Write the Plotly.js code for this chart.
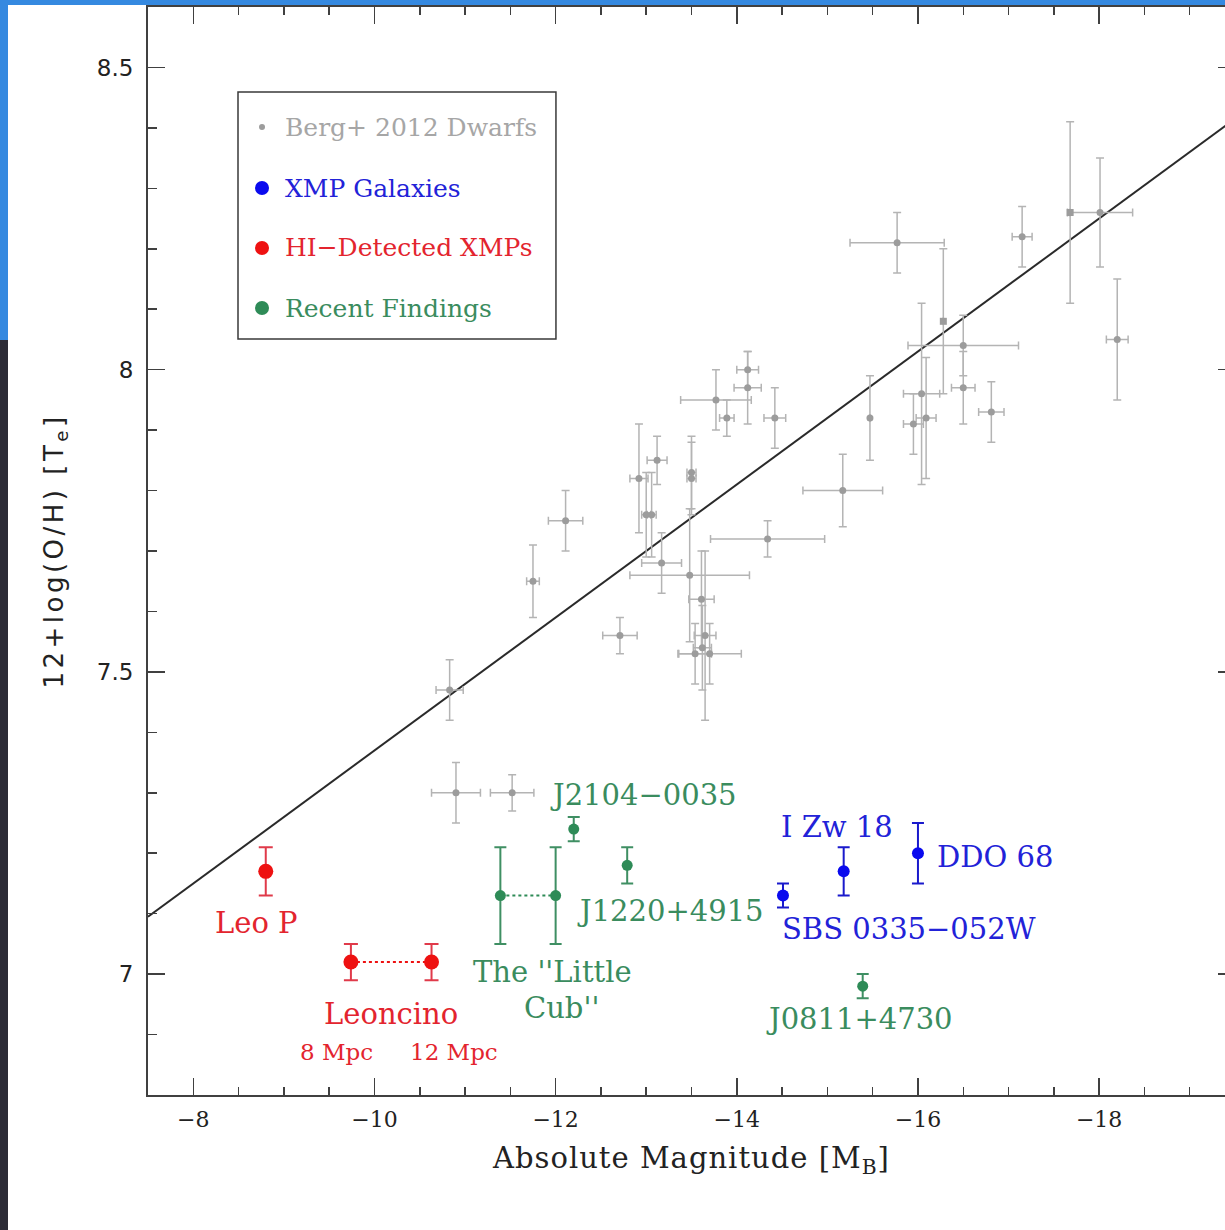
<!DOCTYPE html>
<html>
<head>
<meta charset="utf-8">
<script src="https://cdn.plot.ly/plotly-3.0.1.min.js"></script>
<style>
  html, body { margin: 0; padding: 0; background: #ffffff; overflow: hidden; }
  #chart { position: absolute; left: 0; top: 0; width: 1240px; height: 1230px; }
  .strip { position: absolute; z-index: 5; }
</style>
</head>
<body>
<div id="chart"></div>
<div class="strip" style="left:0;top:0;width:1225px;height:5px;background:#3589e0;"></div>
<div class="strip" style="left:0;top:0;width:8px;height:340px;background:#3589e0;"></div>
<div class="strip" style="left:0;top:340px;width:8px;height:890px;background:#2c2b36;"></div>
<script>
// ---------------- DATA ----------------
// Berg+ 2012 dwarfs: absolute B magnitude, 12+log(O/H), and errors
const bergM     = [-10.83, -10.90, -11.52, -11.75, -12.11, -12.71, -12.92, -13.12, -13.00, -13.06,
                   -13.17, -13.50, -13.50, -13.48, -13.61, -13.65, -13.54, -13.70, -13.62, -14.34,
                   -13.77, -13.89, -14.12, -14.12, -14.42, -15.17, -15.47, -15.77, -16.28, -16.50,
                   -16.04, -16.09, -15.95, -16.50, -16.81, -17.15, -17.68, -18.01, -18.20];
const bergOH    = [7.47, 7.30, 7.30, 7.65, 7.75, 7.56, 7.82, 7.85, 7.76, 7.76,
                   7.68, 7.83, 7.82, 7.66, 7.62, 7.56, 7.53, 7.53, 7.54, 7.72,
                   7.95, 7.92, 8.00, 7.97, 7.92, 7.80, 7.92, 8.21, 8.08, 8.04,
                   7.96, 7.92, 7.91, 7.97, 7.93, 8.22, 8.26, 8.26, 8.05];
const bergMErr  = [0.15, 0.27, 0.24, 0.07, 0.19, 0.19, 0.10, 0.11, 0.05, 0.05,
                   0.22, 0.05, 0.05, 0.66, 0.14, 0.12, 0.18, 0.35, 0.10, 0.63,
                   0.39, 0.08, 0.12, 0.15, 0.12, 0.44, 0.00, 0.52, 0.00, 0.61,
                   0.20, 0.11, 0.11, 0.13, 0.14, 0.11, 0.00, 0.36, 0.12];
const bergOHErr = [0.05, 0.05, 0.03, 0.06, 0.05, 0.03, 0.09, 0.04, 0.07, 0.07,
                   0.05, 0.06, 0.06, 0.11, 0.08, 0.14, 0.05, 0.05, 0.07, 0.03,
                   0.05, 0.03, 0.03, 0.06, 0.05, 0.06, 0.07, 0.05, 0.12, 0.05,
                   0.15, 0.10, 0.05, 0.06, 0.05, 0.05, 0.15, 0.09, 0.10];
const bergShape = ['circle','circle','circle','circle','circle','circle','circle','circle','circle','circle',
                   'circle','circle','circle','circle','circle','circle','circle','circle','circle','circle',
                   'circle','circle','circle','circle','circle','circle','circle','circle','square','circle',
                   'circle','circle','circle','circle','circle','circle','square','circle','circle'];

// XMP galaxies (blue): SBS 0335-052W, I Zw 18, DDO 68
const xmpNames = ['SBS 0335\u2212052W', 'I Zw 18', 'DDO 68'];
const xmpM     = [-14.51, -15.18, -16.00];
const xmpOH    = [7.13, 7.17, 7.20];
const xmpOHErr = [0.02, 0.04, 0.05];

// HI-detected XMPs (red): Leo P, Leoncino at 8 Mpc, Leoncino at 12 Mpc
const hiNames = ['Leo P', 'Leoncino (8 Mpc)', 'Leoncino (12 Mpc)'];
const hiM     = [-8.80, -9.74, -10.63];
const hiOH    = [7.17, 7.02, 7.02];
const hiOHErr = [0.04, 0.03, 0.03];

// Recent findings (green): Little Cub (two distances), J2104-0035, J1220+4915, J0811+4730
const recNames = ['Little Cub (near)', 'Little Cub (far)', 'J2104\u22120035', 'J1220+4915', 'J0811+4730'];
const recM     = [-11.39, -12.00, -12.20, -12.79, -15.39];
const recOH    = [7.13, 7.13, 7.24, 7.18, 6.98];
const recOHErr = [0.08, 0.08, 0.02, 0.03, 0.02];

// Berg+ 2012 luminosity-metallicity relation, evaluated at the axis ends
const fitM  = [-7.5, -19.5];
const fitOH = [7.095, 8.415];

// ---------------- STYLE ----------------
const GRAY = '#9c9c9c', GRAYBAR = '#b4b4b4';
const BLUE = '#0a0aee', RED = '#ee1111', GREEN = '#2e8b57';
const SERIF = 'DejaVu Serif, Liberation Serif, serif';
const SANS = 'DejaVu Sans, Liberation Sans, sans-serif';

function ghost(xa, ya) { // invisible copy of the fit line so the tick-only axes get drawn
  return { x: fitM, y: fitOH, xaxis: xa, yaxis: ya, mode: 'lines', type: 'scatter',
           hoverinfo: 'skip', opacity: 0, line: { width: 0.1, color: 'rgba(0,0,0,0)' }, showlegend: false };
}

const traces = [
  { // fit line
    x: fitM, y: fitOH, mode: 'lines', type: 'scatter', hoverinfo: 'skip',
    line: { color: '#2a2a2a', width: 2 }, showlegend: false
  },
  { // Berg dwarfs
    x: bergM, y: bergOH, mode: 'markers', type: 'scatter', name: 'Berg+ 2012 Dwarfs',
    marker: { color: GRAY, size: 7, symbol: bergShape },
    error_x: { type: 'data', array: bergMErr, color: GRAYBAR, thickness: 1.5, width: 4 },
    error_y: { type: 'data', array: bergOHErr, color: GRAYBAR, thickness: 1.5, width: 4 },
    showlegend: false
  },
  { // Leoncino connector
    x: hiM.slice(1), y: hiOH.slice(1), mode: 'lines', type: 'scatter', hoverinfo: 'skip',
    line: { color: RED, width: 2, dash: 'dot' }, showlegend: false
  },
  { // Little Cub connector
    x: recM.slice(0, 2), y: recOH.slice(0, 2), mode: 'lines', type: 'scatter', hoverinfo: 'skip',
    line: { color: GREEN, width: 2, dash: 'dot' }, showlegend: false
  },
  { // XMP galaxies
    x: xmpM, y: xmpOH, text: xmpNames, mode: 'markers', type: 'scatter', name: 'XMP Galaxies',
    marker: { color: BLUE, size: 12 },
    error_y: { type: 'data', array: xmpOHErr, color: '#1a1acc', thickness: 2, width: 6 },
    showlegend: false
  },
  { // HI-detected XMPs
    x: hiM, y: hiOH, text: hiNames, mode: 'markers', type: 'scatter', name: 'HI-Detected XMPs',
    marker: { color: RED, size: 15 },
    error_y: { type: 'data', array: hiOHErr, color: '#e03a4a', thickness: 2, width: 7 },
    showlegend: false
  },
  { // Recent findings
    x: recM, y: recOH, text: recNames, mode: 'markers', type: 'scatter', name: 'Recent Findings',
    marker: { color: GREEN, size: 11 },
    error_y: { type: 'data', array: recOHErr, color: '#3f8f63', thickness: 2, width: 6 },
    showlegend: false
  },
  ghost('x2', 'y2'),
  ghost('x3', 'y3')
];

function lab(text, x, y, color, size) {
  return { text: text, x: x, y: y, xref: 'x', yref: 'y', showarrow: false,
           xanchor: 'center', yanchor: 'middle',
           font: { family: SERIF, size: size || 29, color: color } };
}
const TXT_RED = '#e3242e', TXT_BLUE = '#2222d8', TXT_GREEN = '#3a8c5e', TXT_GRAY = '#a6a6a6';

const annotations = [
  lab('Leo P', -8.695, 7.085, TXT_RED),
  lab('Leoncino', -10.185, 6.934, TXT_RED),
  lab('8 Mpc', -9.578, 6.871, TXT_RED, 23),
  lab('12 Mpc', -10.88, 6.871, TXT_RED, 23),
  lab("The ''Little", -11.96, 7.003, TXT_GREEN),
  lab("Cub''", -12.07, 6.944, TXT_GREEN),
  lab('J2104\u22120035', -12.967, 7.296, TXT_GREEN),
  lab('J1220+4915', -13.265, 7.105, TXT_GREEN),
  lab('I Zw 18', -15.108, 7.243, TXT_BLUE),
  lab('DDO 68', -16.848, 7.193, TXT_BLUE),
  lab('SBS 0335\u2212052W', -15.902, 7.075, TXT_BLUE),
  lab('J0811+4730', -15.351, 6.925, TXT_GREEN)
];

// legend (drawn by hand, paper coordinates)
const legNames  = ['Berg+ 2012 Dwarfs', 'XMP Galaxies', 'HI\u2212Detected XMPs', 'Recent Findings'];
const legColors = [TXT_GRAY, TXT_BLUE, TXT_RED, TXT_GREEN];
const legDot    = [GRAY, BLUE, RED, GREEN];
const legDotR   = [3, 7, 7, 7];
const legY      = [0.8897, 0.8336, 0.7785, 0.7233];
const shapes = [
  { type: 'rect', xref: 'paper', yref: 'paper', x0: 0.0828, x1: 0.3753, y0: 0.6949, y1: 0.9219,
    line: { color: '#3a3a3a', width: 1.5 }, fillcolor: 'rgba(0,0,0,0)' }
];
legNames.forEach(function (n, i) {
  annotations.push({ text: n, xref: 'paper', yref: 'paper', x: 0.1245, y: legY[i],
    xanchor: 'left', yanchor: 'middle', showarrow: false,
    font: { family: SERIF, size: 25, color: legColors[i] } });
  shapes.push({ type: 'circle', xref: 'paper', yref: 'paper', xsizemode: 'pixel', ysizemode: 'pixel',
    xanchor: 0.1049, yanchor: legY[i], x0: -legDotR[i], x1: legDotR[i], y0: -legDotR[i], y1: legDotR[i],
    fillcolor: legDot[i], line: { width: 0 } });
});

const TICKC = '#404040';
function axisBase() {
  return { showgrid: false, zeroline: false, showline: true, linecolor: TICKC, linewidth: 2,
           ticks: 'inside', ticklen: 17, tickwidth: 1.5, tickcolor: TICKC, automargin: false };
}
const xRange = [-7.5, -19.5], yRange = [6.8, 8.6];
function tickOnly(over, side, range, t0, dt, len) {
  return Object.assign(axisBase(), { overlaying: over, side: side, range: range.slice(),
    tick0: t0, dtick: dt, ticklen: len, showticklabels: false, showline: false });
}

const layout = {
  width: 1240, height: 1230,
  margin: { l: 148, r: 5, t: 7, b: 135 },
  paper_bgcolor: '#ffffff', plot_bgcolor: '#ffffff',
  showlegend: false,
  xaxis: Object.assign(axisBase(), {
    range: xRange.slice(), tick0: 0, dtick: 2, mirror: true,
    minor: { dtick: 0.5, ticks: 'inside', ticklen: 8, tickwidth: 1.5, tickcolor: TICKC },
    tickfont: { family: SERIF, size: 22, color: '#222' },
    ticklabelstandoff: 4,
    title: { text: '<span style="letter-spacing:1px">Absolute Magnitude [M<sub>B</sub>]</span>', standoff: 16,
             font: { family: SERIF, size: 29, color: '#222' } }
  }),
  yaxis: Object.assign(axisBase(), {
    range: yRange.slice(), tick0: 7, dtick: 0.5, mirror: true,
    minor: { dtick: 0.1, ticks: 'inside', ticklen: 9, tickwidth: 1.5, tickcolor: TICKC },
    tickfont: { family: SANS, size: 23, color: '#222' },
    ticklabelstandoff: 8,
    title: { text: '<span style="letter-spacing:3.5px">12+log(O/H) [T<sub>e</sub>]</span>', standoff: 26,
             font: { family: SANS, size: 26, color: '#222' } }
  }),
  // tick-only copies of the axes on the top and right edges (major and minor)
  xaxis2: tickOnly('x', 'top', xRange, 0, 2, 17),
  yaxis2: tickOnly('y', 'right', yRange, 7, 0.5, 17),
  xaxis3: tickOnly('x', 'top', xRange, 0, 0.5, 8),
  yaxis3: tickOnly('y', 'right', yRange, 7, 0.1, 9),
  annotations: annotations,
  shapes: shapes
};

Plotly.newPlot('chart', traces, layout, { staticPlot: true, displayModeBar: false });
</script>
</body>
</html>
